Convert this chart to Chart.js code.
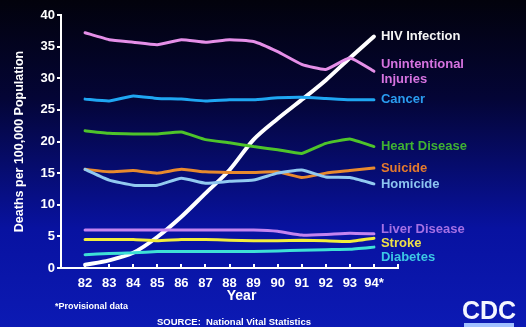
<!DOCTYPE html>
<html><head><meta charset="utf-8">
<script src="https://cdn.jsdelivr.net/npm/chart.js@4/dist/chart.umd.min.js"></script>
<style>
html,body{margin:0;padding:0;}
body{width:526px;height:327px;overflow:hidden;background:linear-gradient(180deg,#02020c 0%,#040536 30%,#0812a0 70%,#0c1ab4 100%);}
#wrap{position:relative;width:526px;height:327px;}
</style></head>
<body><div id="wrap"><canvas id="c" width="526" height="327"></canvas></div>
<script>
const years = [82,83,84,85,86,87,88,89,90,91,92,93,94];
const yTicks = [0,5,10,15,20,25,30,35,40];
const hiv            = [0.5,1.2,2.4,4.9,8.1,11.8,15.5,20.3,23.6,26.6,29.7,33.2,36.6];
const unintentional  = [37.2,36.1,35.7,35.3,36.1,35.7,36.1,35.8,34.2,32.2,31.4,33.2,31.1];
const cancer         = [26.7,26.4,27.2,26.8,26.7,26.4,26.6,26.6,26.9,27.0,26.8,26.6,26.6];
const heartDisease   = [21.7,21.3,21.2,21.2,21.5,20.3,19.8,19.2,18.7,18.1,19.7,20.4,19.2];
const suicide        = [15.6,15.2,15.4,15.0,15.6,15.2,15.1,15.1,15.2,14.3,15.0,15.4,15.8];
const homicide       = [15.6,13.9,13.1,13.1,14.2,13.4,13.7,13.9,15.0,15.5,14.4,14.3,13.3];
const liverDisease   = [6.0,6.0,6.0,6.0,6.0,6.0,6.0,6.0,5.8,5.2,5.3,5.5,5.4];
const stroke         = [4.5,4.5,4.5,4.3,4.5,4.5,4.4,4.3,4.3,4.4,4.3,4.2,4.7];
const diabetes       = [2.1,2.3,2.4,2.6,2.6,2.6,2.6,2.6,2.7,2.8,2.9,2.95,3.3];

const series = [
  {name:'HIV Infection', lines:['HIV Infection'], data:hiv, color:'#ffffff', text:'#f4f4f4', w:4, t:0.3, dy:0},
  {name:'Unintentional Injuries', lines:['Unintentional','Injuries'], data:unintentional, color:'#e58fe8', text:'#d673e0', w:3, t:0.15, dy:1},
  {name:'Cancer', lines:['Cancer'], data:cancer, color:'#1fa6f2', text:'#2a9cf0', w:3, t:0.15, dy:0},
  {name:'Heart Disease', lines:['Heart Disease'], data:heartDisease, color:'#4ec42a', text:'#3fb232', w:3, t:0.1, dy:0},
  {name:'Suicide', lines:['Suicide'], data:suicide, color:'#e88a2e', text:'#e57a2c', w:3, t:0.15, dy:0},
  {name:'Homicide', lines:['Homicide'], data:homicide, color:'#92caf0', text:'#8cc4f0', w:3, t:0.15, dy:1},
  {name:'Liver Disease', lines:['Liver Disease'], data:liverDisease, color:'#c484f0', text:'#a470e4', w:3, t:0.1, dy:-4},
  {name:'Stroke', lines:['Stroke'], data:stroke, color:'#f2ee3c', text:'#eee048', w:3, t:0.1, dy:5},
  {name:'Diabetes', lines:['Diabetes'], data:diabetes, color:'#3ee0d6', text:'#3cc8e4', w:3, t:0.1, dy:10}
];

const FONT = "'Liberation Sans', Arial, sans-serif";

const decor = {
  id:'decor',
  afterDraw(chart){
    const ctx = chart.ctx, xs = chart.scales.x, ys = chart.scales.y;
    ctx.save();
    // upward x tick marks
    ctx.strokeStyle = '#ffffff'; ctx.lineWidth = 2;
    for(let v=82; v<=95; v++){
      const px = Math.round(xs.getPixelForValue(v));
      ctx.beginPath(); ctx.moveTo(px, ys.bottom); ctx.lineTo(px, ys.bottom-4); ctx.stroke();
    }
    // series labels
    ctx.font = "bold 13px " + FONT;
    ctx.textBaseline = 'middle'; ctx.textAlign = 'left';
    const lx = xs.getPixelForValue(94) + 7;
    series.forEach(s=>{
      const yy = ys.getPixelForValue(s.data[s.data.length-1]) + s.dy;
      ctx.fillStyle = s.text;
      if(s.lines.length===1){ ctx.fillText(s.lines[0], lx, yy); }
      else { ctx.fillText(s.lines[0], lx, yy-7.5); ctx.fillText(s.lines[1], lx, yy+7.5); }
    });
    // axis title Year
    ctx.fillStyle = '#ffffff';
    ctx.textAlign = 'center';
    ctx.font = "bold 14px " + FONT;
    ctx.fillText('Year', xs.getPixelForValue(88.5), 296);
    // footnotes
    ctx.textAlign = 'left';
    ctx.font = "bold 9px " + FONT;
    ctx.fillText('*Provisional data', 55, 307);
    ctx.font = "bold 9.5px " + FONT;
    ctx.fillText('SOURCE:  National Vital Statistics', 157, 322);
    // CDC logo
    ctx.font = "bold 25px " + FONT;
    ctx.fillStyle = '#f4f6ff';
    ctx.textAlign = 'center';
    ctx.fillText('CDC', 489, 312);
    ctx.fillStyle = '#9fc0ff';
    ctx.fillRect(464, 323, 50, 4);
    ctx.restore();
  }
};

new Chart(document.getElementById('c'), {
  type:'line',
  data:{
    datasets: series.map(s=>({
      label:s.name,
      data: s.data.map((v,i)=>({x:years[i], y:v})),
      borderColor:s.color, backgroundColor:s.color,
      borderWidth:s.w, pointRadius:0, tension:s.t,
      borderCapStyle:'round', borderJoinStyle:'round'
    })).reverse()
  },
  options:{
    responsive:false, animation:false, devicePixelRatio:1,
    layout:{padding:{top:15,right:128,left:0,bottom:0}},
    plugins:{legend:{display:false}, tooltip:{enabled:false}},
    scales:{
      x:{
        type:'linear', min:81, max:95,
        afterBuildTicks(scale){ scale.ticks = years.map(v=>({value:v})); },
        afterFit(scale){ scale.height = 59; },
        grid:{display:true, drawOnChartArea:false, drawTicks:false},
        border:{display:true, color:'#ffffff', width:2},
        ticks:{color:'#ffffff', padding:8, autoSkip:false, maxRotation:0,
          font:{family:FONT, weight:'bold', size:13},
          callback:(v)=> v===94 ? '94*' : String(v)}
      },
      y:{
        min:0, max:40,
        afterBuildTicks(scale){ scale.ticks = yTicks.map(v=>({value:v})); },
        afterFit(scale){ scale.width = 61; },
        grid:{display:true, drawOnChartArea:false, drawTicks:true, tickLength:4, color:'#ffffff', lineWidth:2},
        border:{display:true, color:'#ffffff', width:2},
        ticks:{color:'#ffffff', padding:2, font:{family:FONT, weight:'bold', size:13}},
        title:{display:true, text:'Deaths per 100,000 Population', color:'#ffffff',
          font:{family:FONT, weight:'bold', size:12.5}, padding:{top:12,bottom:0}}
      }
    }
  },
  plugins:[decor]
});
</script></body></html>
